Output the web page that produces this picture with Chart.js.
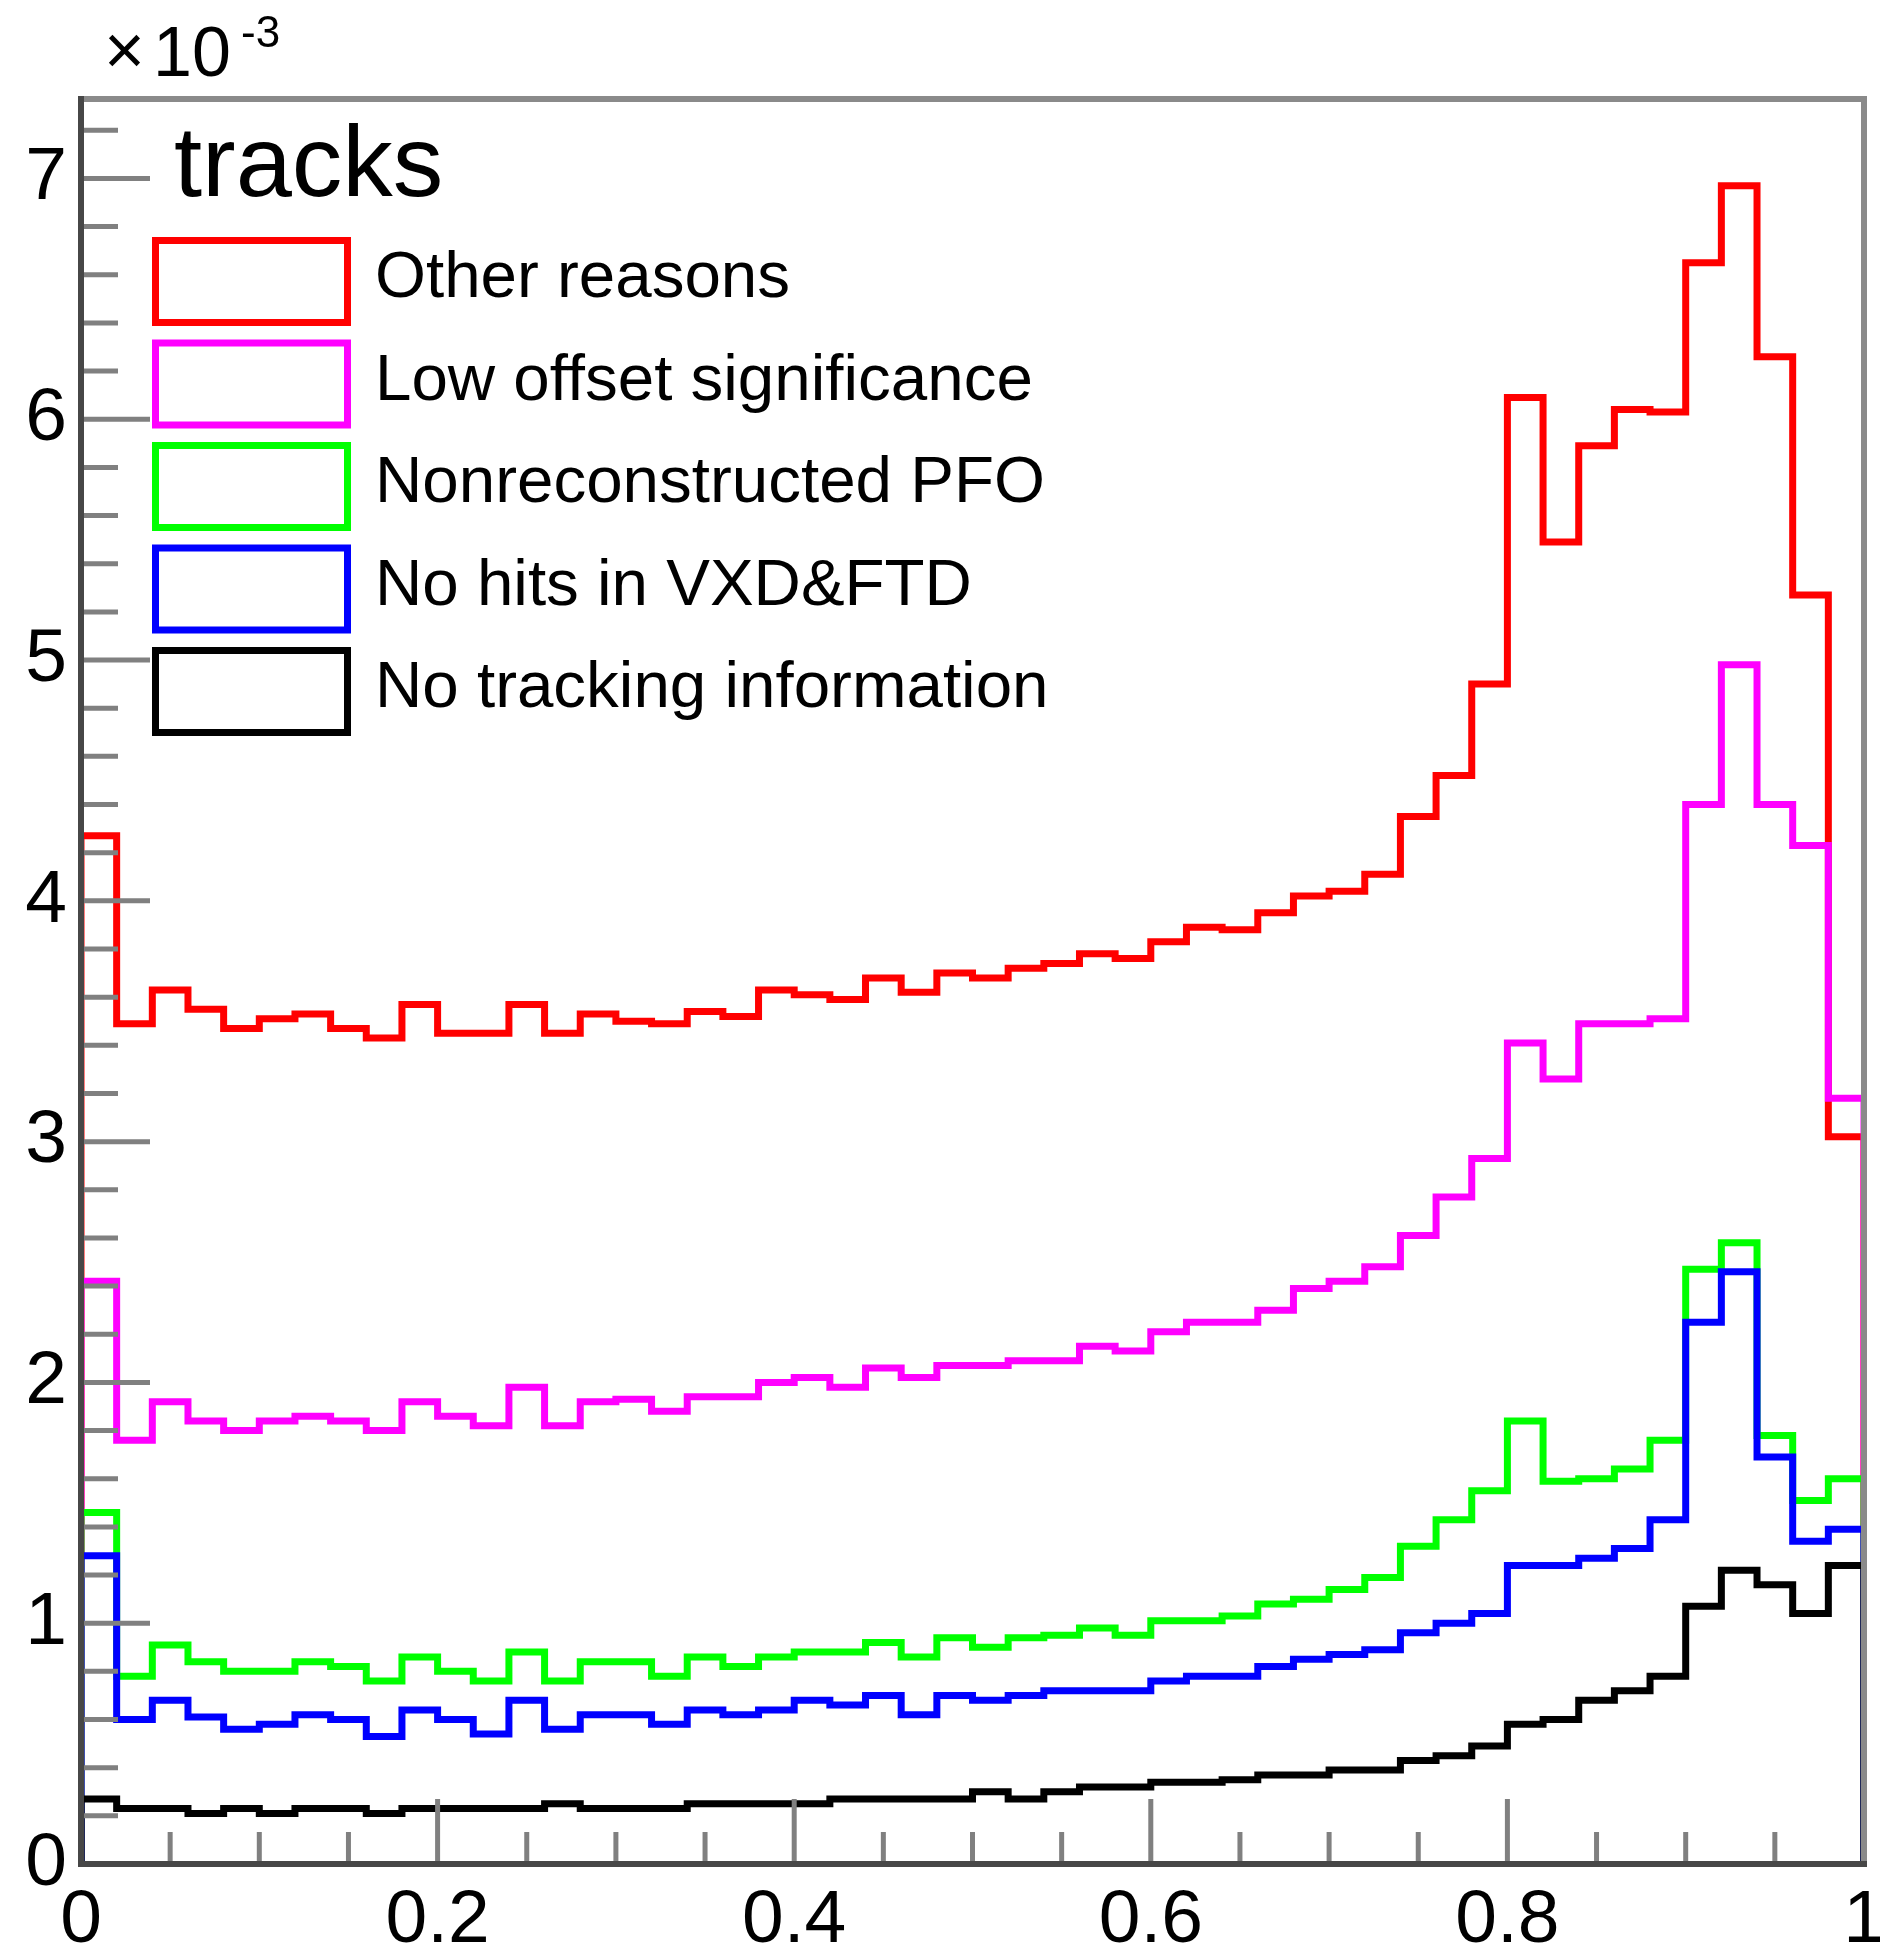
<!DOCTYPE html>
<html lang="en">
<head>
<meta charset="UTF-8">
<title>tracks</title>
<style>
  html, body { margin: 0; padding: 0; background: #fff; }
  canvas { display: block; }
</style>
</head>
<body>
<canvas id="histo" width="1880" height="1957"></canvas>
<script src="https://cdn.jsdelivr.net/npm/chart.js"></script>
<script>
// binning of the histograms (x from 0 to 1, 50 bins), y in units of 1e-3
const xMin = 0;
const xMax = 1;
const yMax = 7.33;

const xTicks = [0, 0.2, 0.4, 0.6, 0.8, 1];
const yTicks = [0, 1, 2, 3, 4, 5, 6, 7];

const legendTitle = "tracks";
const seriesNames = [
  "Other reasons",
  "Low offset significance",
  "Nonreconstructed PFO",
  "No hits in VXD&FTD",
  "No tracking information"
];
const seriesColors = ["#ff0000", "#ff00ff", "#00ff00", "#0000ff", "#000000"];

const otherReasons = [
  4.27, 3.49, 3.63, 3.55, 3.47, 3.51, 3.53, 3.47, 3.43, 3.57,
  3.45, 3.45, 3.57, 3.45, 3.53, 3.50, 3.49, 3.54, 3.52, 3.63,
  3.61, 3.59, 3.68, 3.62, 3.70, 3.68, 3.72, 3.74, 3.78, 3.76,
  3.83, 3.89, 3.88, 3.95, 4.02, 4.04, 4.11, 4.35, 4.52, 4.90,
  6.09, 5.49, 5.89, 6.04, 6.03, 6.65, 6.97, 6.26, 5.27, 3.02
];
const lowOffset = [
  2.42, 1.76, 1.92, 1.84, 1.80, 1.84, 1.86, 1.84, 1.80, 1.92,
  1.86, 1.82, 1.98, 1.82, 1.92, 1.93, 1.88, 1.94, 1.94, 2.00,
  2.02, 1.98, 2.06, 2.02, 2.07, 2.07, 2.09, 2.09, 2.15, 2.13,
  2.21, 2.25, 2.25, 2.30, 2.39, 2.42, 2.48, 2.61, 2.77, 2.93,
  3.41, 3.26, 3.49, 3.49, 3.51, 4.40, 4.98, 4.40, 4.23, 3.18
];
const nonReconstructed = [
  1.46, 0.78, 0.91, 0.84, 0.80, 0.80, 0.84, 0.82, 0.76, 0.86,
  0.80, 0.76, 0.88, 0.76, 0.84, 0.84, 0.78, 0.86, 0.82, 0.86,
  0.88, 0.88, 0.92, 0.86, 0.94, 0.90, 0.94, 0.95, 0.98, 0.95,
  1.01, 1.01, 1.03, 1.08, 1.10, 1.14, 1.19, 1.32, 1.43, 1.55,
  1.84, 1.59, 1.60, 1.64, 1.76, 2.47, 2.58, 1.78, 1.51, 1.60
];
const noVxdHits = [
  1.28, 0.60, 0.68, 0.61, 0.56, 0.58, 0.62, 0.60, 0.53, 0.64,
  0.60, 0.54, 0.68, 0.56, 0.62, 0.62, 0.58, 0.64, 0.62, 0.64,
  0.68, 0.66, 0.70, 0.62, 0.70, 0.68, 0.70, 0.72, 0.72, 0.72,
  0.76, 0.78, 0.78, 0.82, 0.85, 0.87, 0.89, 0.96, 1.00, 1.04,
  1.24, 1.24, 1.27, 1.31, 1.43, 2.25, 2.46, 1.69, 1.34, 1.39
];
const noTracking = [
  0.27, 0.23, 0.23, 0.21, 0.23, 0.21, 0.23, 0.23, 0.21, 0.23,
  0.23, 0.23, 0.23, 0.25, 0.23, 0.23, 0.23, 0.25, 0.25, 0.25,
  0.25, 0.27, 0.27, 0.27, 0.27, 0.30, 0.27, 0.30, 0.32, 0.32,
  0.34, 0.34, 0.35, 0.37, 0.37, 0.39, 0.39, 0.43, 0.45, 0.49,
  0.58, 0.60, 0.68, 0.72, 0.78, 1.07, 1.22, 1.16, 1.04, 1.24
];

const seriesValues = [otherReasons, lowOffset, nonReconstructed, noVxdHits, noTracking];

const FONT = '"Liberation Sans", Arial, Helvetica, sans-serif';

// closed outline of a histogram: up from 0 at the low edge, down to 0 at the high edge
function stepPoints(values) {
  const w = (xMax - xMin) / values.length;
  const pts = [{ x: xMin, y: 0 }];
  values.forEach((v, i) => pts.push({ x: xMin + i * w, y: v }));
  pts.push({ x: xMax, y: values[values.length - 1] });
  pts.push({ x: xMax, y: 0 });
  return pts;
}

const datasets = seriesValues.map((vals, i) => ({
  label: seriesNames[i],
  data: stepPoints(vals),
  stepped: "before",
  borderColor: seriesColors[i],
  borderWidth: 7,
  borderJoinStyle: "miter",
  borderCapStyle: "butt",
  pointRadius: 0,
  fill: false,
  order: seriesValues.length - i   // black ends up on top
}));

// ROOT-like frame: ticks inside the pad, axis lines, legend and exponent
const rootFrame = {
  id: "rootFrame",
  afterDatasetsDraw(chart) {
    const { ctx, chartArea: a, scales } = chart;
    const sx = scales.x, sy = scales.y;
    ctx.save();
    ctx.lineCap = "butt";

    // tick marks
    ctx.strokeStyle = "#808080";
    ctx.lineWidth = 5;
    ctx.beginPath();
    for (let k = 1; k * 0.2 <= yMax; k++) {
      const py = sy.getPixelForValue(k * 0.2);
      const len = k % 5 === 0 ? 69 : 37;
      ctx.moveTo(a.left, py);
      ctx.lineTo(a.left + len, py);
    }
    for (let k = 1; k < 20; k++) {
      const px = sx.getPixelForValue(k * 0.05);
      const len = k % 4 === 0 ? 65 : 32;
      ctx.moveTo(px, a.bottom);
      ctx.lineTo(px, a.bottom - len);
    }
    ctx.stroke();

    // frame: top and right lighter, axes darker
    ctx.lineWidth = 6;
    ctx.strokeStyle = "#8a8a8a";
    ctx.beginPath();
    ctx.moveTo(a.left, a.top);
    ctx.lineTo(a.right, a.top);
    ctx.lineTo(a.right, a.bottom);
    ctx.stroke();
    ctx.strokeStyle = "#474747";
    ctx.beginPath();
    ctx.moveTo(a.left, a.top - 3);
    ctx.lineTo(a.left, a.bottom);
    ctx.lineTo(a.right + 3, a.bottom);
    ctx.stroke();

    // exponent above the y axis
    ctx.fillStyle = "#000";
    ctx.textAlign = "left";
    ctx.textBaseline = "alphabetic";
    ctx.font = "70px " + FONT;
    ctx.fillText("\u00d7", 104, 74);
    ctx.fillText("10", 153, 76);
    ctx.font = "44px " + FONT;
    ctx.fillText("-3", 241, 47);

    // legend
    ctx.font = "101px " + FONT;
    ctx.fillText(legendTitle, 174, 196);
    ctx.font = "65.5px " + FONT;
    ctx.textBaseline = "middle";
    chart.data.datasets.forEach((ds, i) => {
      const top = 237 + i * 102.5;
      ctx.lineWidth = 7;
      ctx.strokeStyle = ds.borderColor;
      ctx.strokeRect(155.5, top + 3.5, 192, 82);
      ctx.fillStyle = "#000";
      ctx.fillText(ds.label, 375, top + 42);
    });
    ctx.restore();
  }
};

const tickFont = { family: FONT, size: 75 };

new Chart(document.getElementById("histo"), {
  type: "line",
  data: { datasets },
  options: {
    responsive: false,
    animation: false,
    layout: { padding: { top: 99, right: 16, left: 0, bottom: 0 } },
    plugins: {
      legend: { display: false },
      tooltip: { enabled: false }
    },
    scales: {
      x: {
        type: "linear",
        min: xMin,
        max: xMax,
        grid: { display: false, drawTicks: false },
        border: { display: false },
        afterBuildTicks: (s) => { s.ticks = xTicks.map((v) => ({ value: v })); },
        afterFit: (s) => { s.height = 93; s.paddingLeft = 0; s.paddingRight = 0; },
        ticks: {
          color: "#000",
          font: tickFont,
          padding: 12,
          maxRotation: 0,
          autoSkip: false,
          callback: (v) => String(Math.round(v * 10) / 10)
        }
      },
      y: {
        type: "linear",
        min: 0,
        max: yMax,
        grid: { display: false, drawTicks: false },
        border: { display: false },
        afterBuildTicks: (s) => { s.ticks = yTicks.map((v) => ({ value: v })); },
        afterFit: (s) => { s.width = 81; s.paddingTop = 0; s.paddingBottom = 0; },
        ticks: {
          color: "#000",
          font: tickFont,
          padding: 14,
          autoSkip: false,
          callback: (v) => String(v)
        }
      }
    }
  },
  plugins: [rootFrame]
});
</script>
</body>
</html>
